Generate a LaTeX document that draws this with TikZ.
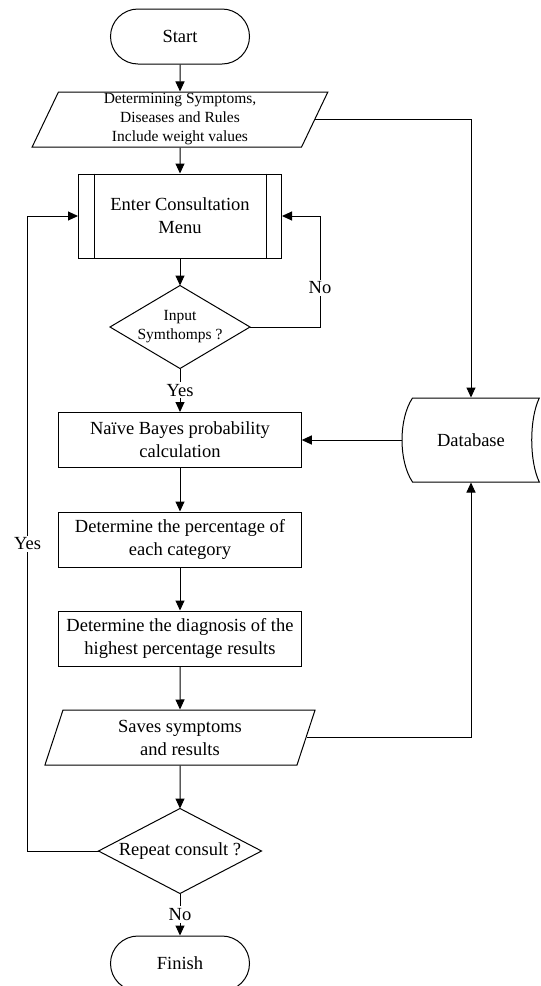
\documentclass[tikz,border=0pt]{standalone}
\usepackage{fontspec}
\setmainfont{Liberation Serif}
\usetikzlibrary{arrows.meta,shapes.geometric,shapes.misc}
\begin{document}
\begin{tikzpicture}[x=1pt,y=-1pt, line width=1pt,
  big/.style={font=\fontsize{18.5}{23}\selectfont},
  small/.style={font=\fontsize{15.5}{19}\selectfont},
  term/.style={rounded rectangle, draw, minimum width=139pt, minimum height=55pt, inner sep=0pt, big},
  proc/.style={rectangle, draw, minimum width=242.5pt, minimum height=55pt, inner sep=0pt, align=center, big},
  io/.style={trapezium, trapezium left angle=63, trapezium right angle=117, trapezium stretches body, draw, inner sep=0pt, align=center},
  dec/.style={rectangle, inner sep=0pt, align=center},
  arr/.style={-{Triangle[length=10pt,width=9pt]}},
  lbl/.style={fill=white, inner sep=2pt, big}
]
\useasboundingbox (0,0) rectangle (541,986);

\node[term] (start) at (180,36.5) {Start};
\node[io, small, minimum width=295.7pt, minimum height=55pt] (p1) at (180,119.5) {Determining Symptoms,\\Diseases and Rules\\Include weight values};
\node[proc, minimum width=203pt, minimum height=84pt] (enter) at (180,216) {Enter Consultation\\Menu};
\draw ([xshift=16pt]enter.north west) -- ([xshift=16pt]enter.south west);
\draw ([xshift=-16pt]enter.north east) -- ([xshift=-16pt]enter.south east);
\node[dec, small, minimum width=139pt, minimum height=82pt] (d1) at (180,327) {Input\\Symthomps ?};
\draw (d1.north) -- (d1.east) -- (d1.south) -- (d1.west) -- cycle;
\node[proc] (naive) at (180,440) {Naïve Bayes probability\\calculation};
\node[proc] (perc) at (180,539.5) {Determine the percentage of\\each category};
\node[proc] (diag) at (180,638.5) {Determine the diagnosis of the\\highest percentage results};
\node[io, big, minimum width=270.1pt, minimum height=55pt] (saves) at (180,737.5) {Saves symptoms\\and results};
\node[dec, big, minimum width=162pt, minimum height=84pt] (d2) at (180,851) {Repeat consult ?};
\draw (d2.north) -- (d2.east) -- (d2.south) -- (d2.west) -- cycle;
\node[term] (finish) at (180,963.5) {Finish};
\node[minimum width=138pt, minimum height=84pt, inner sep=0pt, big] (db) at (471,440) {Database};
\draw (412.5,398) -- (539.3,398) .. controls (529.2,419) and (529.2,461) .. (539.3,482) -- (412.5,482) .. controls (398.5,461) and (398.5,419) .. (412.5,398) -- cycle;

\draw[arr] (start.south) -- (p1.north);
\draw[arr] (p1.south) -- (enter.north);
\draw[arr] (enter.south) -- (d1.north);
\draw[arr] (d1.south) -- node[lbl] (yes1) {Yes} (naive.north);
\draw[arr] (naive.south) -- (perc.north);
\draw[arr] (perc.south) -- (diag.north);
\draw[arr] (diag.south) -- (saves.north);
\draw[arr] (saves.south) -- (d2.north);
\draw[arr] (d2.south) -- node[lbl] (no2) {No} (finish.north);
\coordinate (rl) at (320,216);
\draw[arr] (d1.east) -| (rl) -- (enter.east);
\node[lbl] (no1) at (320,288) {No};
\coordinate (ll) at (27.6,216);
\draw[arr] (d2.west) -| (ll) -- (enter.west);
\node[lbl] (yes2) at (27.6,544) {Yes};
\draw[arr] (p1.east) -| (db.north);
\draw[arr] (saves.east) -| (db.south);
\draw[arr] (db.west) -- (naive.east);
\end{tikzpicture}
\end{document}
